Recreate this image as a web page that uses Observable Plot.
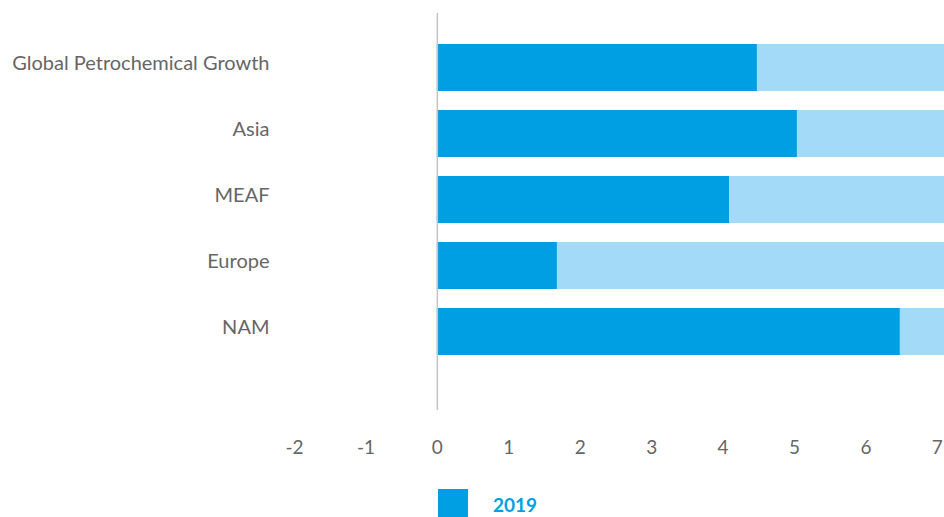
<!DOCTYPE html>
<html>
<head>
<meta charset="utf-8">
<script src="https://cdn.jsdelivr.net/npm/d3@7"></script>
<script src="https://cdn.jsdelivr.net/npm/@observablehq/plot@0.6"></script>
<style>
  html, body { margin: 0; padding: 0; background: #fff; overflow: hidden; }
  body { width: 944px; height: 517px; font-family: Lato, "Open Sans", sans-serif; }
  #legend { display: flex; align-items: center; padding-left: 438px; padding-top: 19px; }
  #legend .sw { width: 30px; height: 30px; background: #009fe3; }
  #legend .lb { margin-left: 25px; color: #009fe3; font-size: 19px; font-weight: 700; }
</style>
</head>
<body>
<div id="chart"></div>
<div id="legend"><span class="sw"></span><span class="lb">2019</span></div>
<script>
const regions = ["Global Petrochemical Growth", "Asia", "MEAF", "Europe", "NAM"];
const growth2019 = [4.48, 5.04, 4.09, 1.68, 6.48];
const backgroundTo = 7.1;
const xTicks = [-2, -1, 0, 1, 2, 3, 4, 5, 6, 7];
const seriesName = "2019";

const rows = regions.map((r, i) => ({region: r, value: growth2019[i], bg: backgroundTo}));

const chart = Plot.plot({
  width: 944,
  height: 470,
  marginTop: 13,
  marginBottom: 60,
  marginLeft: 294,
  marginRight: 0,
  style: {fontFamily: "Lato, 'Open Sans', sans-serif", fontSize: "20px", fontWeight: 400, color: "#666", background: "#fff"},
  x: {domain: [-2, backgroundTo], ticks: xTicks, tickFormat: d => String(d), label: null},
  y: {domain: regions, padding: 0.29, insetTop: 10.8, insetBottom: 35.7, label: null},
  marks: [
    Plot.barX(rows, {y: "region", x1: 0, x2: "bg", fill: "#a3daf7"}),
    Plot.barX(rows, {y: "region", x1: 0, x2: "value", fill: "#009fe3"}),
    Plot.ruleX([0], {stroke: "#c4c4c4", strokeWidth: 1.5}),
    Plot.axisX({ticks: xTicks, tickSize: 0, tickPadding: 30, fontSize: 19, fontWeight: 400, fill: "#666", tickFormat: d => String(d), label: null}),
    Plot.axisY({tickSize: 0, tickPadding: 25, fontSize: 20, fontWeight: 400, fill: "#666", dy: -4, label: null})
  ]
});
document.getElementById("chart").appendChild(chart);
</script>
</body>
</html>
